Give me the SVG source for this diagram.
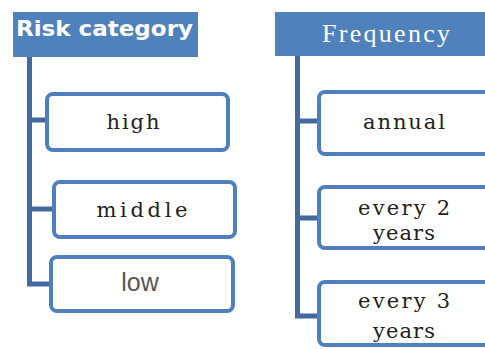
<svg xmlns="http://www.w3.org/2000/svg" width="485" height="349" viewBox="0 0 485 349">
<style>
.hdr{fill:#4F81BD}
.box{fill:#fff;stroke:#4F7FBE;stroke-width:4}
.con{fill:none;stroke:#44699F;stroke-width:5}
.ser{font-family:"DejaVu Serif","Liberation Serif",serif;font-size:21px;fill:#222;text-anchor:middle}
.sans{font-family:"Liberation Sans",Arial,sans-serif;font-size:25px;fill:#555;text-anchor:middle}
.ht{font-family:"DejaVu Sans","Liberation Sans",sans-serif;font-weight:bold;font-size:22px;fill:#fff}
.hf{font-family:"Liberation Serif","DejaVu Serif",serif;font-size:26px;fill:#fff}
</style>
<rect width="485" height="349" fill="#fff"/>
<g id="connectors">
<path class="con" d="M29.5 57V284H51M29.5 120H47M29.5 209H54"/>
<path class="con" d="M297.5 56V316H319M297.5 121H319M297.5 218H319"/>
</g>
<g id="risk-category">
<rect class="hdr" x="13" y="12" width="185" height="45"/>
<text class="ht" x="16" y="36" textLength="177" lengthAdjust="spacingAndGlyphs">Risk category</text>
</g>
<g id="high">
<rect class="box" x="47" y="94" width="181" height="56" rx="6"/>
<text class="ser" x="133" y="129" textLength="53" lengthAdjust="spacing">high</text>
</g>
<g id="middle">
<rect class="box" x="54" y="182" width="181" height="55" rx="6"/>
<text class="ser" x="142" y="217" textLength="91" lengthAdjust="spacing">middle</text>
</g>
<g id="low">
<rect class="box" x="51" y="257" width="182" height="54" rx="6"/>
<text class="sans" x="140" y="291">low</text>
</g>
<g id="frequency">
<rect class="hdr" x="275" y="12" width="215" height="44"/>
<text class="hf" x="322" y="42" textLength="128" lengthAdjust="spacing">Frequency</text>
</g>
<g id="annual">
<rect class="box" x="319" y="92" width="180" height="62" rx="6"/>
<text class="ser" x="404" y="129" textLength="82" lengthAdjust="spacing">annual</text>
</g>
<g id="every-2-years">
<rect class="box" x="319" y="187" width="180" height="61" rx="6"/>
<text class="ser" x="404" y="215" textLength="92" lengthAdjust="spacing">every 2</text>
<text class="ser" x="404" y="240" textLength="62" lengthAdjust="spacing">years</text>
</g>
<g id="every-3-years">
<rect class="box" x="319" y="282" width="180" height="63" rx="6"/>
<text class="ser" x="404" y="308" textLength="92" lengthAdjust="spacing">every 3</text>
<text class="ser" x="404" y="338" textLength="62" lengthAdjust="spacing">years</text>
</g>
</svg>
